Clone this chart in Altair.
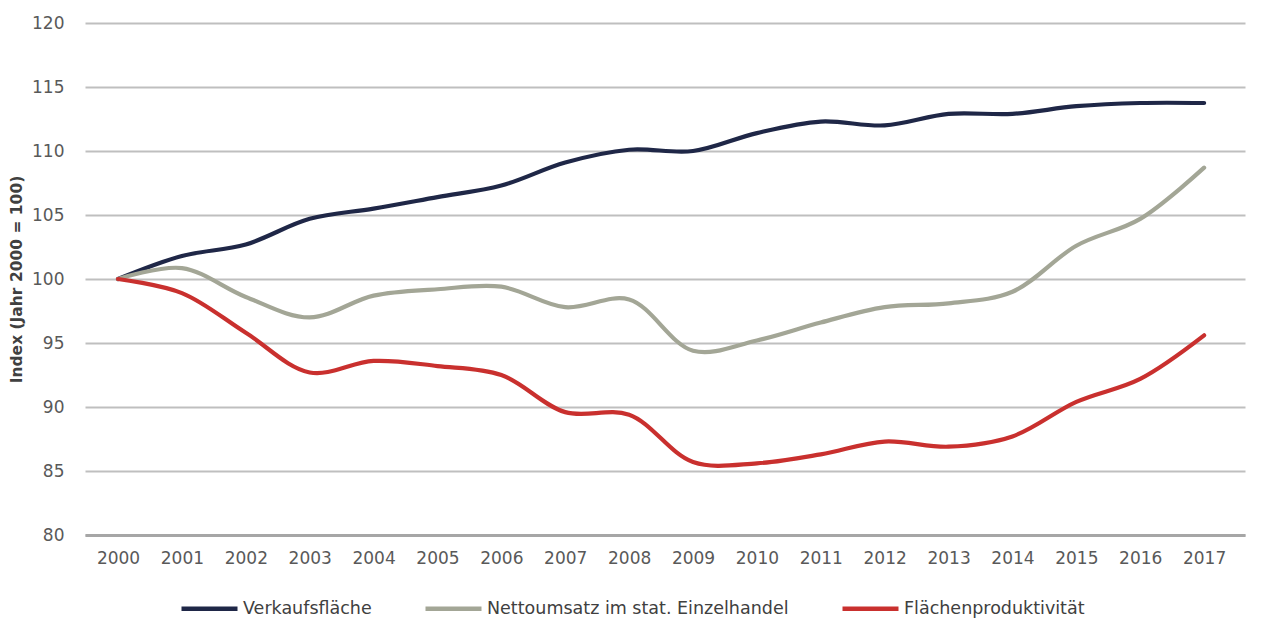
import altair as alt
import pandas as pd

years = list(range(2000, 2018))
verkaufsflaeche = [100.0, 101.8, 102.7, 104.7, 105.5, 106.4, 107.3, 109.1, 110.1, 110.0,
                   111.4, 112.3, 112.0, 112.9, 112.9, 113.5, 113.75, 113.75]
nettoumsatz = [100.0, 100.85, 98.6, 97.0, 98.7, 99.2, 99.4, 97.8, 98.4, 94.4,
               95.2, 96.6, 97.8, 98.1, 99.0, 102.6, 104.7, 108.7]
flaechenprod = [100.0, 98.9, 95.8, 92.7, 93.6, 93.2, 92.5, 89.6, 89.4, 85.7,
                85.6, 86.3, 87.3, 86.9, 87.7, 90.4, 92.2, 95.6]

series_names = ["Verkaufsfläche", "Nettoumsatz im stat. Einzelhandel", "Flächenproduktivität"]
series_colors = ["#1f2747", "#a3a696", "#c9302e"]

rows = []
for name, vals, order in zip(series_names, [verkaufsflaeche, nettoumsatz, flaechenprod], range(3)):
    for y, v in zip(years, vals):
        rows.append({"Jahr": y, "Index": v, "Serie": name, "order": order})
df = pd.DataFrame(rows)

FONT = "DejaVu Sans"

chart = alt.Chart(df).mark_line(strokeWidth=4.2, interpolate="catmull-rom", strokeCap="round").encode(
    x=alt.X("Jahr:Q",
            scale=alt.Scale(domain=[1999.483, 2017.64], nice=False, zero=False),
            axis=alt.Axis(values=years, format="d", title=None, grid=False, ticks=False,
                          labelFontSize=17, labelColor="#595959", labelFont=FONT,
                          labelPadding=15, domain=True, domainColor="#a6a6a6", domainWidth=3,
                          labelFlush=False, labelOverlap=False)),
    y=alt.Y("Index:Q",
            scale=alt.Scale(domain=[80, 120], nice=False, zero=False),
            axis=alt.Axis(values=list(range(80, 121, 5)), title="Index (Jahr 2000 = 100)",
                          titleFontSize=15.5, titleFont=FONT, titleFontWeight="bold", titleColor="#404040",
                          titlePadding=7, labelFontSize=17, labelColor="#595959", labelFont=FONT,
                          labelPadding=21, ticks=False, domain=False, grid=True,
                          gridColor="#bfbfbf", gridWidth=2)),
    color=alt.Color("Serie:N",
                    scale=alt.Scale(domain=series_names, range=series_colors),
                    legend=alt.Legend(title=None, orient="none", direction="horizontal",
                                      legendX=94, legendY=555, padding=0,
                                      symbolType="stroke", symbolSize=3136, symbolStrokeWidth=4.5,
                                      labelFontSize=17.5, labelFont=FONT, labelColor="#404040",
                                      labelOffset=3, columnPadding=44, labelLimit=500)),
    order=alt.Order("order:Q"),
).properties(width=1160, height=512).configure(
    padding={"left": 1, "top": 6, "right": 5, "bottom": 0}
).configure_view(stroke=None)

chart.save("out.html", embed_options={"renderer": "svg", "actions": False})
